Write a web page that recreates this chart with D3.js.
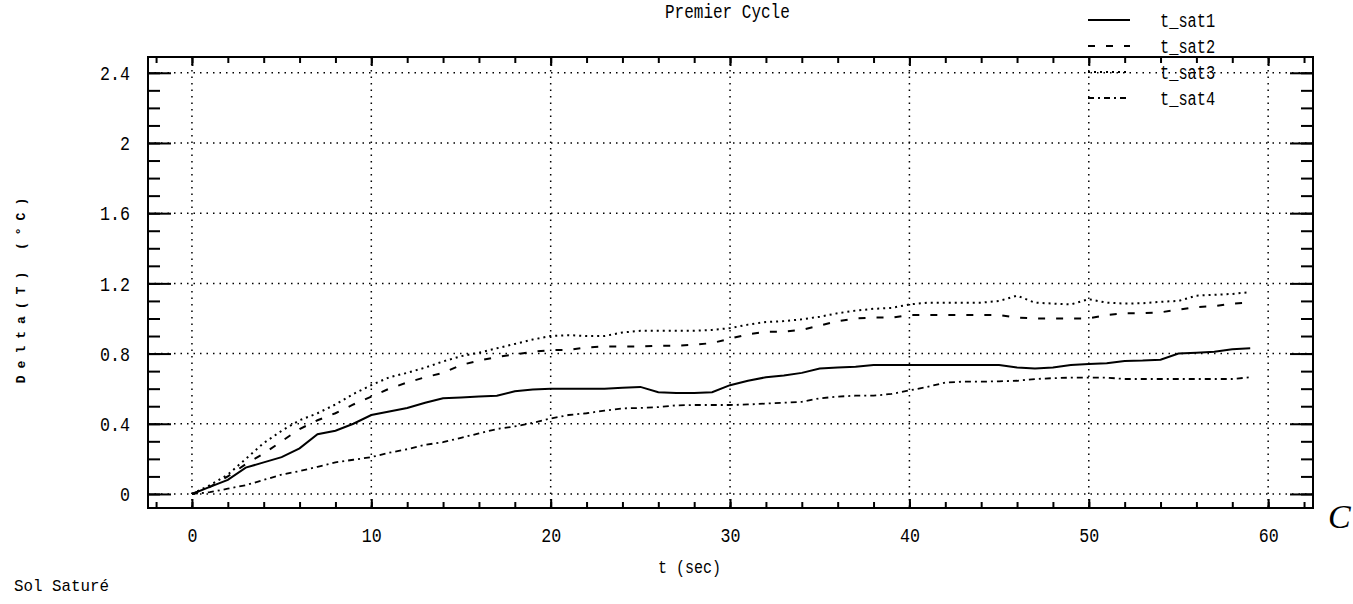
<!DOCTYPE html>
<html>
<head>
<meta charset="utf-8">
<script src="https://cdn.jsdelivr.net/npm/d3@7"></script>
<style>
  body { margin: 0; background: #fff; }
  text { font-family: "Liberation Mono", "DejaVu Sans Mono", monospace; fill: #000; }
</style>
</head>
<body>
<svg id="chart" width="1353" height="604"></svg>
<script>
// time in seconds, one reading per second
var secs = d3.range(0, 60);

var t_sat1 = [0, 0.04, 0.08, 0.15, 0.18, 0.21, 0.26, 0.34, 0.36, 0.40,
  0.45, 0.47, 0.49, 0.52, 0.545, 0.55, 0.555, 0.56, 0.585, 0.595,
  0.60, 0.60, 0.60, 0.60, 0.605, 0.61, 0.58, 0.575, 0.575, 0.58,
  0.62, 0.645, 0.665, 0.675, 0.69, 0.715, 0.72, 0.725, 0.735, 0.735,
  0.735, 0.735, 0.735, 0.735, 0.735, 0.735, 0.72, 0.715, 0.72, 0.735,
  0.74, 0.745, 0.758, 0.76, 0.765, 0.80, 0.805, 0.81, 0.825, 0.83];

var t_sat2 = [0, 0.04, 0.10, 0.17, 0.23, 0.30, 0.37, 0.42, 0.46, 0.51,
  0.555, 0.60, 0.635, 0.665, 0.69, 0.735, 0.76, 0.78, 0.795, 0.81,
  0.82, 0.82, 0.835, 0.84, 0.84, 0.84, 0.845, 0.845, 0.85, 0.86,
  0.885, 0.91, 0.925, 0.925, 0.935, 0.96, 0.985, 1.0, 1.005, 1.005,
  1.02, 1.02, 1.02, 1.02, 1.02, 1.02, 1.005, 1.0, 1.0, 1.0,
  1.0, 1.02, 1.03, 1.03, 1.035, 1.05, 1.065, 1.07, 1.085, 1.09];

var t_sat3 = [0, 0.05, 0.11, 0.20, 0.29, 0.36, 0.42, 0.46, 0.51, 0.57,
  0.62, 0.665, 0.69, 0.72, 0.755, 0.785, 0.805, 0.83, 0.855, 0.88,
  0.90, 0.905, 0.90, 0.90, 0.92, 0.93, 0.93, 0.93, 0.93, 0.935,
  0.945, 0.965, 0.98, 0.985, 0.995, 1.01, 1.03, 1.045, 1.055, 1.06,
  1.08, 1.09, 1.09, 1.09, 1.09, 1.10, 1.13, 1.09, 1.085, 1.08,
  1.11, 1.09, 1.085, 1.087, 1.095, 1.10, 1.13, 1.135, 1.14, 1.15];

var t_sat4 = [0, 0.01, 0.03, 0.05, 0.08, 0.11, 0.13, 0.155, 0.18, 0.195,
  0.21, 0.235, 0.255, 0.28, 0.295, 0.32, 0.345, 0.37, 0.385, 0.405,
  0.43, 0.45, 0.46, 0.475, 0.488, 0.49, 0.495, 0.505, 0.507, 0.507,
  0.507, 0.51, 0.515, 0.52, 0.525, 0.545, 0.555, 0.56, 0.56, 0.57,
  0.59, 0.61, 0.635, 0.64, 0.64, 0.642, 0.645, 0.655, 0.66, 0.663,
  0.663, 0.663, 0.655, 0.655, 0.655, 0.655, 0.655, 0.655, 0.655, 0.665];

var seriesNames = ["t_sat1", "t_sat2", "t_sat3", "t_sat4"];
var seriesValues = [t_sat1, t_sat2, t_sat3, t_sat4];

var xTicks = [0, 10, 20, 30, 40, 50, 60];
var xMinorTicks = d3.range(-2, 63, 2);
var yTicks = [0, 0.4, 0.8, 1.2, 1.6, 2, 2.4];
var yMinorTicks = d3.range(0, 25).map(function(i) { return i / 10; });

var title = "Premier Cycle";
var xLabel = "t (sec)";
var yLabel = "Delta(T) (°C)";
var note = "Sol Saturé";

// line styles per series
var dashes = [null, "7,11", "2,4", "6,4,2,4"];
var widths = [2, 2, 2, 1.8];

var svg = d3.select("#chart");
var pl = 148, pr = 1313, pt = 57, pb = 508;

var x = d3.scaleLinear().domain([-2.45, 62.5]).range([pl, pr]);
var y = d3.scaleLinear().domain([-0.08, 2.49]).range([pb, pt]);

// tall narrow lettering like the old plotter font
function squeeze(sel, perChar) {
  sel.attr("textLength", function() { return this.textContent.length * perChar; })
    .attr("lengthAdjust", "spacingAndGlyphs");
}

// dotted grid
svg.append("g").selectAll("line.h").data(yTicks).enter().append("line")
  .attr("x1", pl).attr("x2", pr)
  .attr("y1", function(d) { return y(d); }).attr("y2", function(d) { return y(d); })
  .attr("stroke", "#000").attr("stroke-width", 1.5).attr("stroke-dasharray", "1.5,5");
svg.append("g").selectAll("line.v").data(xTicks).enter().append("line")
  .attr("y1", pt).attr("y2", pb)
  .attr("x1", function(d) { return x(d); }).attr("x2", function(d) { return x(d); })
  .attr("stroke", "#000").attr("stroke-width", 1.5).attr("stroke-dasharray", "1.5,5");

// axes, ticks pointing inward
function styleAxis(g) {
  g.select(".domain").remove();
  g.selectAll(".tick line").attr("stroke", "#000").attr("stroke-width", 2);
  g.selectAll(".tick text").style("font-size", "21px").call(squeeze, 10);
}
var fmt = function(d) { return String(+d.toFixed(1)); };

svg.append("g").attr("transform", "translate(" + pl + ",0)")
  .call(d3.axisLeft(y).tickValues(yMinorTicks).tickSize(-12).tickFormat(""))
  .call(styleAxis);
svg.append("g").attr("transform", "translate(" + pl + ",0)")
  .call(d3.axisLeft(y).tickValues(yTicks).tickSize(-23).tickPadding(18).tickFormat(fmt))
  .call(styleAxis);
svg.append("g").attr("transform", "translate(" + pr + ",0)")
  .call(d3.axisRight(y).tickValues(yMinorTicks).tickSize(-12).tickFormat(""))
  .call(styleAxis);
svg.append("g").attr("transform", "translate(" + pr + ",0)")
  .call(d3.axisRight(y).tickValues(yTicks).tickSize(-23).tickFormat(""))
  .call(styleAxis);

svg.append("g").attr("transform", "translate(0," + pb + ")")
  .call(d3.axisBottom(x).tickValues(xMinorTicks).tickSize(-6).tickFormat(""))
  .call(styleAxis);
svg.append("g").attr("transform", "translate(0," + pb + ")")
  .call(d3.axisBottom(x).tickValues(xTicks).tickSize(-9).tickPadding(19).tickFormat(fmt))
  .call(styleAxis);
svg.append("g").attr("transform", "translate(0," + pt + ")")
  .call(d3.axisTop(x).tickValues(xMinorTicks).tickSize(-6).tickFormat(""))
  .call(styleAxis);
svg.append("g").attr("transform", "translate(0," + pt + ")")
  .call(d3.axisTop(x).tickValues(xTicks).tickSize(-9).tickFormat(""))
  .call(styleAxis);

// frame
svg.append("rect").attr("x", pl).attr("y", pt)
  .attr("width", pr - pl).attr("height", pb - pt)
  .attr("fill", "none").attr("stroke", "#000").attr("stroke-width", 2);

// curves
var line = d3.line()
  .x(function(d, i) { return x(secs[i]); })
  .y(function(d) { return y(d); });

svg.append("g").selectAll("path.curve").data(seriesValues).enter().append("path")
  .attr("class", "curve")
  .attr("d", line)
  .attr("fill", "none")
  .attr("stroke", "#000")
  .attr("stroke-width", function(d, i) { return widths[i]; })
  .attr("stroke-dasharray", function(d, i) { return dashes[i]; });

// legend
var leg = svg.append("g").selectAll("g").data(seriesNames).enter().append("g")
  .attr("transform", function(d, i) { return "translate(1088," + (20 + i * 26) + ")"; });
leg.append("line").attr("x1", 0).attr("x2", 42).attr("y1", 0).attr("y2", 0)
  .attr("stroke", "#000")
  .attr("stroke-width", function(d, i) { return widths[i]; })
  .attr("stroke-dasharray", function(d, i) { return dashes[i]; });
leg.append("text").attr("x", 72).attr("dy", "0.35em")
  .style("font-size", "20px").text(function(d) { return d; }).call(squeeze, 9.2);

// texts
svg.append("text").attr("x", 665).attr("y", 11).attr("dy", "0.35em")
  .style("font-size", "21px").text(title).call(squeeze, 9.6);
svg.append("text").attr("x", 658).attr("y", 566).attr("dy", "0.35em")
  .style("font-size", "19px").text(xLabel).call(squeeze, 9);
svg.append("text").attr("transform", "translate(20,287) rotate(-90)")
  .attr("text-anchor", "middle").attr("dy", "0.35em")
  .style("font-size", "13px").style("font-weight", "bold").style("letter-spacing", "7px")
  .text(yLabel);
svg.append("text").attr("x", 14).attr("y", 585).attr("dy", "0.35em")
  .style("font-size", "17px").text(note).call(squeeze, 9.5);
svg.append("text").attr("x", 1328).attr("y", 528)
  .style("font-family", "Liberation Serif").style("font-style", "italic")
  .style("font-size", "34px").text("C");
</script>
</body>
</html>
